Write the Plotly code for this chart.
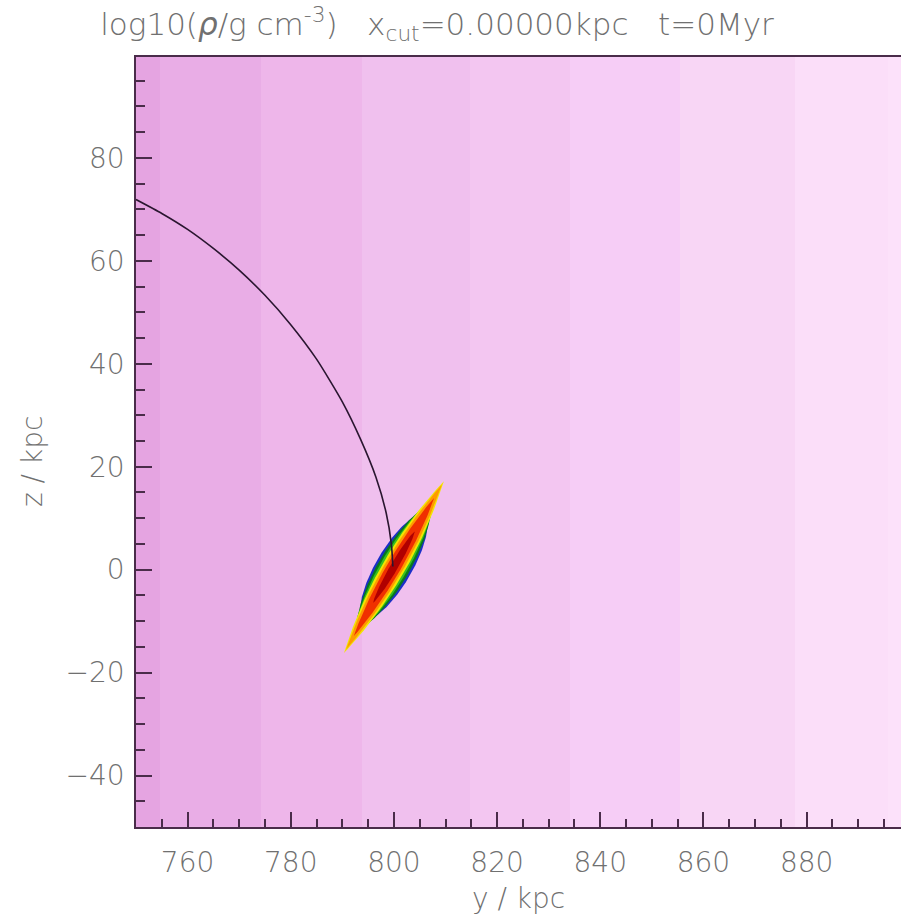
import numpy as np
import plotly.graph_objects as go

# ---------------- data ----------------
# background density bands (edges along y in kpc)
band_edges = [750.0, 754.7, 774.2, 793.8, 814.8, 834.1, 855.5, 877.8, 895.8, 900.0]
band_colors = ["#E5A4E1", "#E9ADE6", "#EEB6EA", "#F0C0EE", "#F3C6F1",
               "#F6CDF6", "#F8D6F5", "#FBDEF9", "#FCE1FA"]

# orbit track (y, z in kpc)
orbit_y = [750.0, 755.0, 760.0, 765.0, 770.0, 775.0, 780.0, 785.0, 790.0,
           793.5, 796.5, 798.5, 799.5, 799.8]
orbit_z = [71.9, 69.2, 66.1, 62.4, 58.2, 53.3, 47.6, 40.9, 32.6,
           25.4, 18.0, 11.0, 5.0, 0.6]

# satellite galaxy: centre, orientation and nested density contours
gal_center_y = 800.0
gal_center_z = 0.5
gal_angle_deg = 59.9
level_semi_major = [11.8, 14.0, 15.8, 19.3, 18.5, 15.5, 8.0]
level_semi_minor = [3.5, 3.05, 2.6, 2.2, 1.8, 1.35, 0.75]
level_tip_power = [0.55, 0.7, 0.85, 1.0, 1.0, 0.9, 0.7]
level_colors = ["#1a2fc8", "#0a7a1a", "#36c020", "#f2e600", "#ff9a00", "#f03000", "#b00000"]

x_ticks = [760, 780, 800, 820, 840, 860, 880]
z_ticks = [-40, -20, 0, 20, 40, 60, 80]

title_text = ("log10(<i>ρ</i>/g cm<sup>-3</sup>)\u00a0\u00a0\u00a0x<sub>cut</sub>=0.00000kpc"
              "\u00a0\u00a0\u00a0t=0Myr")

# ---------------- figure ----------------
fig = go.Figure()

n = len(band_colors)
cscale = []
for i, c in enumerate(band_colors):
    cscale.append([i / n, c])
    cscale.append([(i + 1) / n, c])
fig.add_trace(go.Heatmap(
    x=band_edges, y=[-50, 100], z=[list(range(n))],
    zmin=-0.5, zmax=n - 0.5, colorscale=cscale, showscale=False,
    hoverinfo="skip"))

th = np.deg2rad(gal_angle_deg)
for a, b, q, col in zip(level_semi_major, level_semi_minor, level_tip_power, level_colors):
    u = np.linspace(-a, a, 121)
    v = b * np.clip(1 - (u / a) ** 2, 0, None) ** q
    uu = np.concatenate([u, u[::-1]])
    vv = np.concatenate([v, -v[::-1]])
    px = gal_center_y + uu * np.cos(th) - vv * np.sin(th)
    pz = gal_center_z + uu * np.sin(th) + vv * np.cos(th)
    fig.add_trace(go.Scatter(x=px, y=pz, mode="lines", fill="toself",
                             fillcolor=col, line=dict(width=0, color=col),
                             hoverinfo="skip", showlegend=False))

fig.add_trace(go.Scatter(x=orbit_y, y=orbit_z, mode="lines",
                         line=dict(color="#2a1630", width=1.6, shape="spline", smoothing=0.6),
                         showlegend=False, hoverinfo="skip"))

font_family = "DejaVu Sans"
txt_col = "#707070"
axcol = "#4a2c4a"

fig.update_layout(
    width=901, height=914,
    margin=dict(l=136, r=0, t=57, b=87),
    paper_bgcolor="white", plot_bgcolor="white",
    showlegend=False,
    font=dict(family=font_family, size=28, color=txt_col, weight=200),
    title=dict(text=title_text, x=0.485, xref="container", xanchor="center",
               y=1 - 24 / 914, yref="container", yanchor="middle",
               font=dict(family=font_family, size=31, color=txt_col, weight=200)),
)
fig.update_xaxes(
    range=[750, 898.3], tickvals=x_ticks, ticks="inside", ticklen=15, tickwidth=1.5,
    tickcolor=axcol, showline=True, linecolor=axcol, linewidth=1.5, mirror=True,
    showgrid=False, zeroline=False, ticklabelstandoff=10,
    minor=dict(ticks="inside", ticklen=8, tickwidth=1.5, tickcolor=axcol, dtick=5, showgrid=False),
)
fig.update_yaxes(
    range=[-50, 99.6], tickvals=z_ticks, ticks="inside", ticklen=16, tickwidth=1.5,
    tickcolor=axcol, showline=True, linecolor=axcol, linewidth=1.5, mirror=False,
    showgrid=False, zeroline=False, ticklabelstandoff=4,
    minor=dict(ticks="inside", ticklen=9, tickwidth=1.5, tickcolor=axcol, dtick=5, showgrid=False),
)
fig.add_annotation(text="y / kpc", xref="paper", yref="paper", x=0.5, y=-(898 - 827) / 770,
                   showarrow=False, xanchor="center", yanchor="middle",
                   font=dict(family=font_family, size=28, color=txt_col, weight=200))
fig.add_annotation(text="z / kpc", xref="paper", yref="paper", x=-(136 - 32) / 765,
                   y=(827 - 462) / 770, textangle=-90,
                   showarrow=False, xanchor="center", yanchor="middle",
                   font=dict(family=font_family, size=28, color=txt_col, weight=200))

fig.write_html("out.html", config={"displayModeBar": False},
               post_script="document.body.style.margin='0';document.body.style.overflow='hidden';")
